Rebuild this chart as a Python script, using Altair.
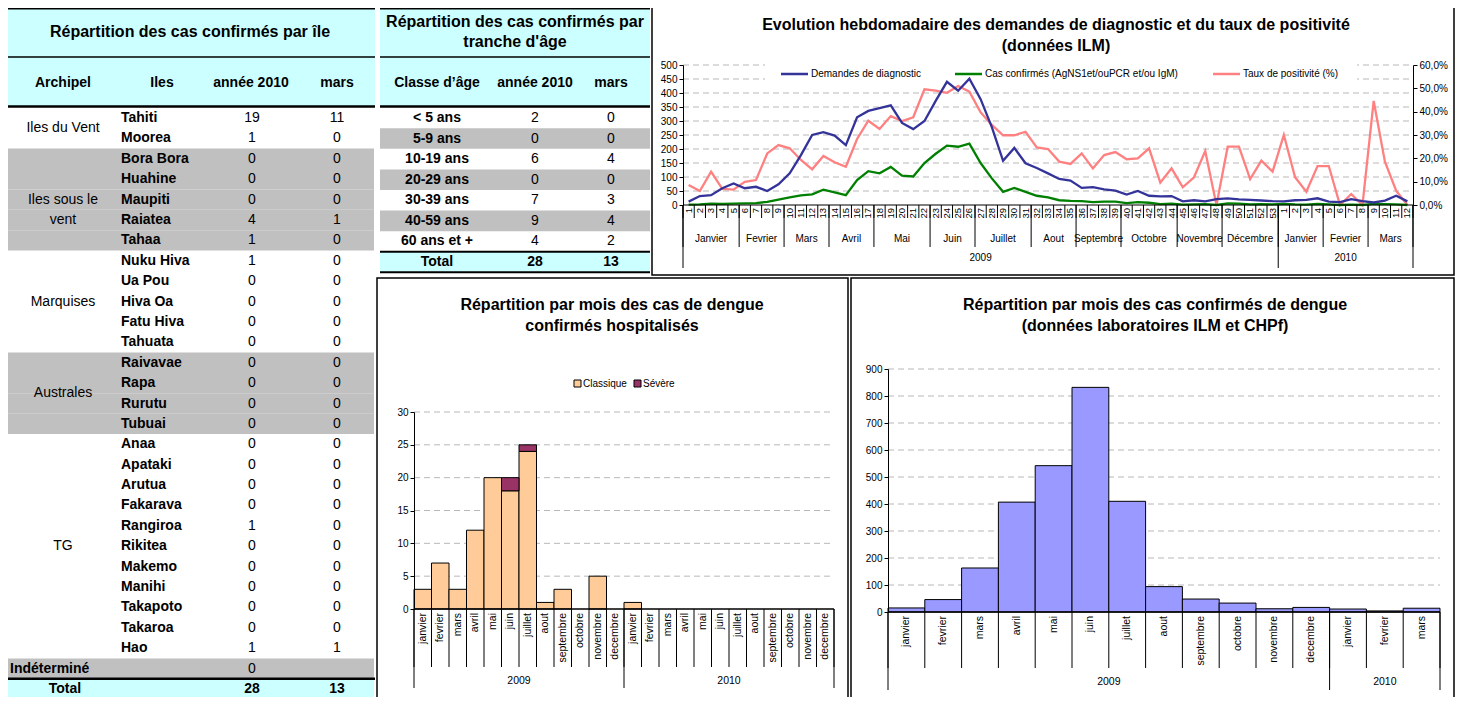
import altair as alt
import pandas as pd

# ====================== DATA ======================
# --- Table 1: confirmed cases by island ---
archipels = ["Iles du Vent", "Iles sous le\nvent", "Marquises", "Australes", "TG"]
archipel_sizes = [2, 5, 5, 4, 11]
islands = ["Tahiti", "Moorea", "Bora Bora", "Huahine", "Maupiti", "Raiatea", "Tahaa",
           "Nuku Hiva", "Ua Pou", "Hiva Oa", "Fatu Hiva", "Tahuata",
           "Raivavae", "Rapa", "Rurutu", "Tubuai",
           "Anaa", "Apataki", "Arutua", "Fakarava", "Rangiroa", "Rikitea", "Makemo",
           "Manihi", "Takapoto", "Takaroa", "Hao"]
island_2010 = [19, 1, 0, 0, 0, 4, 1, 1, 0, 0, 0, 0, 0, 0, 0, 0, 0, 0, 0, 0, 1, 0, 0, 0, 0, 0, 1]
island_mars = [11, 0, 0, 0, 0, 1, 0, 0, 0, 0, 0, 0, 0, 0, 0, 0, 0, 0, 0, 0, 0, 0, 0, 0, 0, 0, 1]
undetermined_2010 = 0
island_total_2010 = 28
island_total_mars = 13

# --- Table 2: confirmed cases by age ---
age_classes = ["< 5 ans", "5-9 ans", "10-19 ans", "20-29 ans", "30-39 ans", "40-59 ans", "60 ans et +"]
age_2010 = [2, 0, 6, 0, 7, 9, 4]
age_mars = [0, 0, 4, 0, 3, 4, 2]
age_total_2010 = 28
age_total_mars = 13

# --- Weekly chart (ILM) ---
weeks_2009 = list(range(1, 54))
weeks_2010 = list(range(1, 13))
months_2009 = ["Janvier", "Fevrier", "Mars", "Avril", "Mai", "Juin", "Juillet", "Aout",
               "Septembre", "Octobre", "Novembre", "Décembre"]
weeks_per_month_2009 = [5, 4, 4, 4, 5, 4, 5, 4, 4, 5, 4, 5]
months_2010 = ["Janvier", "Fevrier", "Mars"]
weeks_per_month_2010 = [4, 4, 4]
demandes_2009 = [12, 32, 35, 60, 77, 60, 65, 50, 74, 113, 178, 250, 260, 248, 214, 313, 336, 346,
                 356, 293, 271, 300, 372, 440, 408, 451, 378, 278, 158, 204, 149, 132, 113, 93, 87,
                 61, 64, 56, 51, 37, 50, 33, 31, 32, 13, 17, 13, 21, 24, 20, 18, 16, 14]
demandes_2010 = [13, 17, 18, 24, 12, 10, 21, 14, 9, 16, 33, 13]
cas_2009 = [1, 2, 5, 4, 5, 6, 7, 11, 19, 27, 34, 38, 55, 45, 35, 89, 121, 113, 136, 105,
            102, 150, 183, 212, 208, 219, 150, 95, 47, 61, 47, 33, 27, 17, 15, 14, 10, 12, 12, 7,
            10, 8, 3, 5, 1, 2, 3, 0, 6, 5, 2, 3, 2]
cas_2010 = [4, 2, 1, 4, 2, 0, 1, 0, 4, 3, 2, 0]
taux_2009 = [8.6, 6.0, 14.3, 6.9, 6.6, 9.9, 10.7, 22.1, 25.7, 24.3, 19.3, 15.3, 21.0, 18.3, 16.4,
             28.3, 36.1, 32.6, 38.1, 36.0, 37.6, 49.6, 49.0, 48.1, 51.0, 48.6, 39.7, 34.3, 29.9,
             29.9, 31.4, 24.7, 24.0, 18.6, 17.6, 22.1, 15.7, 21.4, 22.7, 19.6, 20.0, 24.3, 9.6,
             15.7, 7.6, 11.9, 23.1, 0.0, 25.0, 25.0, 11.1, 19.0, 14.3]
taux_2010 = [30.0, 11.9, 5.7, 16.7, 16.7, 0.0, 4.7, 0.0, 44.6, 18.6, 6.1, 0.0]

# --- Monthly hospitalised cases ---
month_names = ["janvier", "fevrier", "mars", "avril", "mai", "juin", "juillet", "aout",
               "septembre", "octobre", "novembre", "decembre"]
hosp_classique_2009 = [3, 7, 3, 12, 20, 18, 24, 1, 3, 0, 5, 0]
hosp_severe_2009 = [0, 0, 0, 0, 0, 2, 1, 0, 0, 0, 0, 0]
hosp_classique_2010 = [1, 0, 0, 0, 0, 0, 0, 0, 0, 0, 0, 0]
hosp_severe_2010 = [0, 0, 0, 0, 0, 0, 0, 0, 0, 0, 0, 0]

# --- Monthly confirmed cases (ILM + CHPf) ---
lab_months_2010 = ["janvier", "fevrier", "mars"]
lab_2009 = [15, 46, 163, 407, 542, 832, 410, 94, 48, 33, 12, 17]
lab_2010 = [11, 4, 14]

# ====================== STYLE / HELPERS ======================
W, H = 1447, 689
OFF = 8
FONT = "Liberation Sans"
CYAN = "#ccffff"
GRAY = "#c0c0c0"
BLUE = "#333399"
GREEN = "#008000"
PINK = "#ff8080"
GRID = "#b8b8b8"

base = pd.DataFrame({"k": [0]})


def P(v):
    return v - OFF


def S(d0, d1, r0, r1):
    return alt.Scale(domain=[d0, d1], range=[P(r0), P(r1)], nice=False, zero=False)


def label(s, x, y, size=10, bold=False, align="center"):
    return alt.Chart(base).mark_text(
        text=s, font=FONT, fontSize=size, fontWeight=("bold" if bold else "normal"),
        align=align, baseline="middle", color="black"
    ).encode(x=alt.value(P(x)), y=alt.value(P(y)))


def hrule(x1, x2, y, w=1.0, color="black"):
    return alt.Chart(base).mark_rule(color=color, strokeWidth=w).encode(
        x=alt.value(P(x1)), x2=alt.value(P(x2)), y=alt.value(P(y)))


def box(x1, y1, x2, y2, fill="white", stroke=None, w=1.0, fill_opacity=1.0):
    kw = dict(fill=fill, fillOpacity=fill_opacity)
    if stroke:
        kw.update(stroke=stroke, strokeWidth=w)
    return alt.Chart(base).mark_rect(**kw).encode(
        x=alt.value(P(x1)), x2=alt.value(P(x2)), y=alt.value(P(y1)), y2=alt.value(P(y2)))


def axis(orient, offset, values, size=10, label_expr=None):
    kw = dict(orient=orient, offset=offset, values=values, title=None, grid=False,
              labelFont=FONT, labelFontSize=size, labelColor="black", tickColor="black",
              domainColor="black", tickSize=4, labelPadding=2, zindex=1)
    if label_expr:
        kw["labelExpr"] = label_expr
    return alt.Axis(**kw)


def col_text(df, field, x, yscale, bold=False, align="center", filt=None):
    ch = alt.Chart(df)
    if filt:
        ch = ch.transform_filter(filt)
    return ch.mark_text(font=FONT, fontSize=14, fontWeight=("bold" if bold else "normal"),
                        align=align, baseline="middle", color="black").encode(
        x=alt.value(P(x)), y=alt.Y("row:Q", scale=yscale, axis=None), text=f"{field}:N")


layers = []

# ====================== TABLE 1 ======================
n_isl = len(islands)
ROW_UND, ROW_TOT = n_isl, n_isl + 1
isl_df = pd.DataFrame({
    "row": list(range(n_isl)),
    "ile": islands,
    "an": [str(v) for v in island_2010],
    "mars": [str(v) for v in island_mars],
    "arch": sum([[k] * n for k, n in enumerate(archipel_sizes)], []),
})
starts = [sum(archipel_sizes[:k]) for k in range(len(archipel_sizes))]
arch_df = pd.DataFrame({"name": archipels,
                        "mid": [s + (n - 1) / 2 for s, n in zip(starts, archipel_sizes)]})
foot_df = pd.DataFrame({"row": [ROW_UND, ROW_TOT], "lab": ["Indéterminé", "Total"],
                        "an": [str(undetermined_2010), str(island_total_2010)],
                        "mars": ["", str(island_total_mars)]})
ly = S(0, ROW_TOT, 118, 689)

layers.append(box(8, 8, 375, 107, fill=CYAN))
layers.append(
    alt.Chart(isl_df).transform_filter("datum.arch % 2 == 1")
    .transform_calculate(a="datum.row - 0.5", b="datum.row + 0.5")
    .mark_rect(fill=GRAY).encode(y=alt.Y("a:Q", scale=ly, axis=None), y2="b:Q",
                                 x=alt.value(P(8)), x2=alt.value(P(374))))
layers.append(
    alt.Chart(foot_df).transform_filter("datum.row == %d" % ROW_UND)
    .transform_calculate(a="datum.row - 0.5", b="datum.row + 0.5")
    .mark_rect(fill=GRAY).encode(y=alt.Y("a:Q", scale=ly, axis=None), y2="b:Q",
                                 x=alt.value(P(8)), x2=alt.value(P(374))))
layers.append(
    alt.Chart(foot_df).transform_filter("datum.row == %d" % ROW_TOT)
    .transform_calculate(a="datum.row - 0.5", b="datum.row + 0.5")
    .mark_rect(fill=CYAN).encode(y=alt.Y("a:Q", scale=ly, axis=None), y2="b:Q",
                                 x=alt.value(P(8)), x2=alt.value(P(374))))
layers += [hrule(8, 375, 8.5, 2), hrule(8, 375, 57, 1.5), hrule(8, 375, 106.5, 2.5),
           hrule(8, 375, 118 + (ROW_TOT - 0.5) * (571 / ROW_TOT), 2.5)]
layers.append(label("Répartition des cas confirmés par île", 190, 32, 16, True))
layers += [label("Archipel", 63, 83, 14, True), label("Iles", 162, 83, 14, True),
           label("année 2010", 251, 83, 14, True), label("mars", 337, 83, 14, True)]
layers.append(
    alt.Chart(arch_df).mark_text(font=FONT, fontSize=14, lineBreak="\n", lineHeight=20,
                                 align="center", baseline="middle", color="black")
    .encode(x=alt.value(P(63)), y=alt.Y("mid:Q", scale=ly, axis=None), text="name:N"))
layers.append(col_text(isl_df, "ile", 121, ly, bold=True, align="left"))
for col, xc in (("an", 252), ("mars", 337)):
    layers.append(col_text(isl_df, col, xc, ly))
    layers.append(col_text(foot_df, col, xc, ly, filt="datum.row == %d" % ROW_UND))
    layers.append(col_text(foot_df, col, xc, ly, bold=True, filt="datum.row == %d" % ROW_TOT))
layers.append(col_text(foot_df, "lab", 10, ly, bold=True, align="left",
                       filt="datum.row == %d" % ROW_UND))
layers.append(col_text(foot_df, "lab", 65, ly, bold=True, filt="datum.row == %d" % ROW_TOT))

# ====================== TABLE 2 ======================
n_age = len(age_classes)
age_df = pd.DataFrame({
    "row": list(range(n_age + 1)),
    "cls": age_classes + ["Total"],
    "an": [str(v) for v in age_2010] + [str(age_total_2010)],
    "mars": [str(v) for v in age_mars] + [str(age_total_mars)],
})
ay = S(0, n_age, 118, 262)
layers.append(box(380, 8, 650, 107, fill=CYAN))
layers.append(
    alt.Chart(age_df).transform_filter("datum.row %% 2 == 1 && datum.row < %d" % n_age)
    .transform_calculate(a="datum.row - 0.5", b="datum.row + 0.5")
    .mark_rect(fill=GRAY).encode(y=alt.Y("a:Q", scale=ay, axis=None), y2="b:Q",
                                 x=alt.value(P(380)), x2=alt.value(P(650))))
layers.append(
    alt.Chart(age_df).transform_filter("datum.row == %d" % n_age)
    .transform_calculate(a="datum.row - 0.5", b="datum.row + 0.5")
    .mark_rect(fill=CYAN).encode(y=alt.Y("a:Q", scale=ay, axis=None), y2="b:Q",
                                 x=alt.value(P(380)), x2=alt.value(P(650))))
layers += [hrule(380, 650, 8.5, 2), hrule(380, 650, 57, 1.5), hrule(380, 650, 106.5, 2.5),
           hrule(380, 650, 118 + (n_age - 0.5) * (144 / n_age), 2),
           hrule(380, 650, 118 + (n_age + 0.5) * (144 / n_age), 2)]
layers += [label("Répartition des cas confirmés par", 515, 22, 16, True),
           label("tranche d'âge", 515, 42, 16, True)]
layers += [label("Classe d’âge", 437, 83, 14, True), label("année 2010", 535, 83, 14, True),
           label("mars", 611, 83, 14, True)]
layers.append(col_text(age_df, "cls", 437, ay, bold=True))
for col, xc in (("an", 535), ("mars", 611)):
    layers.append(col_text(age_df, col, xc, ay, filt="datum.row < %d" % n_age))
    layers.append(col_text(age_df, col, xc, ay, bold=True, filt="datum.row == %d" % n_age))

# ====================== WEEKLY LINE CHART ======================
rows = []
i = 0
for yr, weeks, mnames, mcounts, dem, cas, tx in (
        (2009, weeks_2009, months_2009, weeks_per_month_2009, demandes_2009, cas_2009, taux_2009),
        (2010, weeks_2010, months_2010, weeks_per_month_2010, demandes_2010, cas_2010, taux_2010)):
    month_of_week = sum([[m] * c for m, c in zip(mnames, mcounts)], [])
    for w, m, d, c, t in zip(weeks, month_of_week, dem, cas, tx):
        rows.append(dict(idx=i, week=str(w), month=m, year=str(yr), demandes=d, cas=c, taux=t))
        i += 1
weekly = pd.DataFrame(rows)
NW = len(weekly)
mgrp = weekly.groupby(["year", "month"], sort=False)["idx"].agg(["min", "max"]).reset_index()
mgrp["mid"] = (mgrp["min"] + mgrp["max"]) / 2
ygrp = weekly.groupby("year", sort=False)["idx"].agg(["min", "max"]).reset_index()
ygrp["mid"] = (ygrp["min"] + ygrp["max"]) / 2
wk_bounds = pd.DataFrame({"b": [k - 0.5 for k in range(NW + 1)]})
m_bounds = pd.DataFrame({"b": list(mgrp["min"] - 0.5) + [NW - 0.5]})
y_bounds = pd.DataFrame({"b": list(ygrp["min"] - 0.5) + [NW - 0.5]})

xw = S(-0.5, NW - 0.5, 683, 1413)
yl = S(0, 500, 205, 65)
yr_ = S(0, 60, 205, 65)

layers.append(box(652, 5, 1454, 275, fill="white", stroke="black", w=1.5, fill_opacity=0))
layers += [label("Evolution hebdomadaire des demandes de diagnostic et du taux de positivité",
                 1056, 25, 16, True),
           label("(données ILM)", 1056, 46, 16, True)]
grid_l = pd.DataFrame({"g": list(range(50, 501, 50))})
layers.append(
    alt.Chart(grid_l).mark_rule(color=GRID, strokeDash=[6, 4], strokeWidth=1)
    .encode(y=alt.Y("g:Q", scale=yl, axis=None), x=alt.value(P(683)), x2=alt.value(P(1413))))
layers.append(box(765, 61, 1357, 86, fill="white"))
layers.append(
    alt.Chart(weekly).mark_line(color=PINK, strokeWidth=2.3)
    .encode(x=alt.X("idx:Q", scale=xw, axis=None),
            y=alt.Y("taux:Q", scale=yr_,
                    axis=axis("right", -(W - P(1413)), list(range(0, 61, 10)),
                              label_expr="replace(format(datum.value, '.1f'), '.', ',') + '%'"))))
layers.append(
    alt.Chart(weekly).mark_line(color=GREEN, strokeWidth=2.3)
    .encode(x=alt.X("idx:Q", scale=xw, axis=None), y=alt.Y("cas:Q", scale=yl, axis=None)))
layers.append(
    alt.Chart(weekly).mark_line(color=BLUE, strokeWidth=2.3)
    .encode(x=alt.X("idx:Q", scale=xw, axis=None),
            y=alt.Y("demandes:Q", scale=yl,
                    axis=axis("left", -P(683), list(range(0, 501, 50))))))
layers.append(hrule(683, 1413, 205, 1.2))
for df_b, y_end in ((wk_bounds, 218), (m_bounds, 247), (y_bounds, 268)):
    layers.append(
        alt.Chart(df_b).mark_rule(color="black", strokeWidth=1)
        .encode(x=alt.X("b:Q", scale=xw, axis=None), y=alt.value(P(205)), y2=alt.value(P(y_end))))
layers.append(
    alt.Chart(weekly).mark_text(font=FONT, fontSize=9.5, angle=270, align="right",
                                baseline="middle", color="black")
    .encode(x=alt.X("idx:Q", scale=xw, axis=None), y=alt.value(P(208)), text="week:N"))
layers.append(
    alt.Chart(mgrp).mark_text(font=FONT, fontSize=10, align="center", baseline="middle")
    .encode(x=alt.X("mid:Q", scale=xw, axis=None), y=alt.value(P(239)), text="month:N"))
layers.append(
    alt.Chart(ygrp).mark_text(font=FONT, fontSize=10, align="center", baseline="middle")
    .encode(x=alt.X("mid:Q", scale=xw, axis=None), y=alt.value(P(258)), text="year:N"))
for c, x1, txt in ((BLUE, 781, "Demandes de diagnostic"),
                   (GREEN, 955, "Cas confirmés (AgNS1et/ouPCR et/ou IgM)"),
                   (PINK, 1213, "Taux de positivité (%)")):
    layers.append(hrule(x1, x1 + 27, 74, 2.5, c))
    layers.append(label(txt, x1 + 30, 74, 10, False, "left"))


# ====================== MONTHLY BAR CHARTS ======================
def month_frame(names_by_year):
    out = []
    k = 0
    for yr, names in names_by_year:
        for nm in names:
            out.append(dict(idx=k, month=nm, year=str(yr)))
            k += 1
    return pd.DataFrame(out)


def cat_axis(df, xs, y0, y_tick, y_year, y_lab, y_yearlab, x_left, x_right):
    n = len(df)
    yg = df.groupby("year", sort=False)["idx"].agg(["min", "max"]).reset_index()
    yg["mid"] = (yg["min"] + yg["max"]) / 2
    b_all = pd.DataFrame({"b": [k - 0.5 for k in range(n + 1)]})
    b_year = pd.DataFrame({"b": list(yg["min"] - 0.5) + [n - 0.5]})
    out = [hrule(x_left, x_right, y0, 1.5)]
    for df_b, y_end in ((b_all, y_tick), (b_year, y_year)):
        out.append(alt.Chart(df_b).mark_rule(color="black", strokeWidth=1)
                   .encode(x=alt.X("b:Q", scale=xs, axis=None), y=alt.value(P(y0)),
                           y2=alt.value(P(y_end))))
    out.append(alt.Chart(df).mark_text(font=FONT, fontSize=10.5, angle=270, align="right",
                                       baseline="middle", color="black")
               .encode(x=alt.X("idx:Q", scale=xs, axis=None), y=alt.value(P(y_lab)),
                       text="month:N"))
    out.append(alt.Chart(yg).mark_text(font=FONT, fontSize=10.5, align="center",
                                       baseline="middle", color="black")
               .encode(x=alt.X("mid:Q", scale=xs, axis=None), y=alt.value(P(y_yearlab)),
                       text="year:N"))
    return out


# --- chart: hospitalised ---
hosp = month_frame([(2009, month_names), (2010, month_names)])
hosp["classique"] = hosp_classique_2009 + hosp_classique_2010
hosp["severe"] = hosp_severe_2009 + hosp_severe_2010
xb1 = S(-0.5, len(hosp) - 0.5, 414, 834)
yb1 = S(0, 30, 609, 412)
layers.append(box(377, 278, 848, 712, fill="white", stroke="black", w=1.5, fill_opacity=0))
layers += [label("Répartition par mois des cas de dengue", 612, 305, 16, True),
           label("confirmés hospitalisés", 612, 326, 16, True)]
layers += [box(574, 380, 581, 387, fill="#ffcc99", stroke="black", w=1),
           label("Classique", 583, 384, 10, False, "left"),
           box(634, 380, 641, 387, fill="#993366", stroke="black", w=1),
           label("Sévère", 643, 384, 10, False, "left")]
layers.append(
    alt.Chart(pd.DataFrame({"g": list(range(5, 31, 5))}))
    .mark_rule(color=GRID, strokeDash=[6, 4], strokeWidth=1)
    .encode(y=alt.Y("g:Q", scale=yb1, axis=None), x=alt.value(P(414)), x2=alt.value(P(834))))
layers.append(
    alt.Chart(hosp).transform_filter("datum.classique > 0")
    .transform_calculate(x0="datum.idx - 0.5", x1="datum.idx + 0.5", z="0")
    .mark_rect(fill="#ffcc99", stroke="black", strokeWidth=1)
    .encode(x=alt.X("x0:Q", scale=xb1, axis=None), x2="x1:Q",
            y=alt.Y("classique:Q", scale=yb1,
                    axis=axis("left", -P(414), list(range(0, 31, 5)))),
            y2="z:Q"))
layers.append(
    alt.Chart(hosp).transform_filter("datum.severe > 0")
    .transform_calculate(x0="datum.idx - 0.5", x1="datum.idx + 0.5",
                         top="datum.classique + datum.severe")
    .mark_rect(fill="#993366", stroke="black", strokeWidth=1)
    .encode(x=alt.X("x0:Q", scale=xb1, axis=None), x2="x1:Q",
            y=alt.Y("classique:Q", scale=yb1, axis=None), y2="top:Q"))
layers += cat_axis(hosp, xb1, 609, 667, 688, 613, 681, 414, 834)

# --- chart: confirmed (laboratories) ---
lab = month_frame([(2009, month_names), (2010, lab_months_2010)])
lab["cas"] = lab_2009 + lab_2010
xb2 = S(-0.5, len(lab) - 0.5, 888, 1440)
yb2 = S(0, 900, 612, 369)
layers.append(box(851, 278, 1454, 712, fill="white", stroke="black", w=1.5, fill_opacity=0))
layers += [label("Répartition par mois des cas confirmés de dengue", 1155, 305, 16, True),
           label("(données laboratoires ILM et CHPf)", 1155, 326, 16, True)]
layers.append(
    alt.Chart(pd.DataFrame({"g": list(range(100, 901, 100))}))
    .mark_rule(color=GRID, strokeDash=[6, 4], strokeWidth=1)
    .encode(y=alt.Y("g:Q", scale=yb2, axis=None), x=alt.value(P(888)), x2=alt.value(P(1440))))
layers.append(
    alt.Chart(lab).transform_calculate(x0="datum.idx - 0.5", x1="datum.idx + 0.5", z="0")
    .mark_rect(fill="#9999ff", stroke="black", strokeWidth=1)
    .encode(x=alt.X("x0:Q", scale=xb2, axis=None), x2="x1:Q",
            y=alt.Y("cas:Q", scale=yb2, axis=axis("left", -P(888), list(range(0, 901, 100)))),
            y2="z:Q"))
layers += cat_axis(lab, xb2, 612, 668, 690, 616, 682, 888, 1440)

chart = (
    alt.layer(*layers)
    .resolve_scale(x="independent", y="independent")
    .properties(width=W, height=H, autosize="none", padding=0)
    .configure_view(stroke=None)
)
chart.save("out.html", embed_options={"renderer": "svg", "actions": False})
